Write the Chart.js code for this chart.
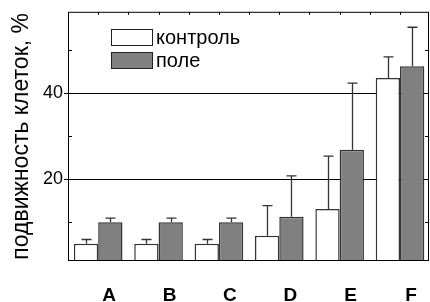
<!DOCTYPE html>
<html>
<head>
<meta charset="utf-8">
<script src="https://cdn.jsdelivr.net/npm/chart.js@4"></script>
<style>
  html, body { margin: 0; padding: 0; background: #fff; }
  #wrap { width: 430px; height: 302px; }
</style>
</head>
<body>
<div id="wrap"><canvas id="cellChart" width="430" height="302"></canvas></div>
<script>
// ======================
// DATA
// ======================
const groups = ["A", "B", "C", "D", "E", "F"];
const seriesNames = ["контроль", "поле"];
const controlValues = [5, 5, 5, 6.9, 13.1, 43.6];
const controlErrors = [1, 1, 1, 7, 12.3, 4.9];
const fieldValues = [10, 10, 10, 11.3, 26.9, 46.3];
const fieldErrors = [1, 1, 1, 9.5, 15.5, 9.1];
const yTicks = [20, 40];
const yMinorTicks = [10, 30, 50];

const FONT = "'Liberation Sans', Arial, sans-serif";

// ======================
// ERROR BARS (upper only)
// ======================
const errorBars = {
    id: "errorBars",
    afterDatasetsDraw(chart) {
        const ctx = chart.ctx;
        const y = chart.scales.y;
        const errs = [controlErrors, fieldErrors];
        ctx.save();
        ctx.strokeStyle = "#333";
        ctx.lineWidth = 1.3;
        chart.data.datasets.forEach((ds, i) => {
            chart.getDatasetMeta(i).data.forEach((bar, j) => {
                const top = y.getPixelForValue(ds.data[j].y + errs[i][j]);
                const x = Math.round(bar.x) + 0.5;
                ctx.beginPath();
                ctx.moveTo(x, bar.y);
                ctx.lineTo(x, top);
                ctx.moveTo(x - 5, top);
                ctx.lineTo(x + 5, top);
                ctx.stroke();
            });
        });
        ctx.restore();
    }
};

// ======================
// FRAME + MINOR TICKS
// ======================
const frame = {
    id: "frame",
    afterDraw(chart) {
        const ctx = chart.ctx;
        const a = chart.chartArea;
        const x = chart.scales.x;
        const y = chart.scales.y;
        ctx.save();
        ctx.strokeStyle = "#000";
        ctx.lineWidth = 1;
        ctx.strokeRect(a.left + 0.5, a.top + 0.5, a.right - a.left - 1, a.bottom - a.top - 1);
        ctx.beginPath();
        yMinorTicks.forEach(v => {
            const py = Math.round(y.getPixelForValue(v)) + 0.5;
            ctx.moveTo(a.left, py); ctx.lineTo(a.left + 4, py);
            ctx.moveTo(a.right, py); ctx.lineTo(a.right - 4, py);
        });
        for (let v = 0; v <= groups.length - 1; v += 0.5) {
            const px = Math.round(x.getPixelForValue(v)) + 0.5;
            ctx.moveTo(px, a.top); ctx.lineTo(px, a.top + 3);
        }
        ctx.stroke();
        ctx.restore();
    }
};

// ======================
// LEGEND (inside plot)
// ======================
const boxLegend = {
    id: "boxLegend",
    afterDraw(chart) {
        const ctx = chart.ctx;
        ctx.save();
        chart.data.datasets.forEach((ds, i) => {
            const top = 29 + i * 23;
            ctx.fillStyle = ds.backgroundColor;
            ctx.fillRect(111, top, 41, 16);
            ctx.strokeStyle = "#222";
            ctx.lineWidth = 1;
            ctx.strokeRect(111.5, top + 0.5, 41, 16);
            ctx.fillStyle = "#000";
            ctx.font = "20px " + FONT;
            ctx.textBaseline = "middle";
            ctx.fillText(ds.label, 156, top + 9);
        });
        ctx.restore();
    }
};

new Chart(document.getElementById("cellChart"), {
    type: "bar",
    data: {
        datasets: [
            {
                label: seriesNames[0],
                data: groups.map((g, i) => ({ x: i, y: controlValues[i] })),
                backgroundColor: "#ffffff",
                borderColor: "#333",
                borderWidth: 1.5,
                categoryPercentage: 0.805,
                barPercentage: 1
            },
            {
                label: seriesNames[1],
                data: groups.map((g, i) => ({ x: i, y: fieldValues[i] })),
                backgroundColor: "#808080",
                borderColor: "#333",
                borderWidth: 1.5,
                categoryPercentage: 0.805,
                barPercentage: 1
            }
        ]
    },
    options: {
        responsive: false,
        animation: false,
        devicePixelRatio: 1,
        layout: { padding: { top: 9, right: 1, left: 0, bottom: 0 } },
        plugins: {
            legend: { display: false },
            tooltip: { enabled: false }
        },
        scales: {
            x: {
                type: "linear",
                min: -0.5,
                max: 5.48,
                offset: false,
                afterBuildTicks: axis => { axis.ticks = groups.map((g, i) => ({ value: i })); },
                afterFit: s => { s.height = 41; },
                grid: { display: false, offset: false },
                border: { display: false },
                ticks: {
                    autoSkip: false,
                    maxRotation: 0,
                    labelOffset: 11,
                    padding: 15,
                    color: "#000",
                    font: { family: FONT, size: 19, weight: "bold" },
                    callback: v => groups[v]
                }
            },
            y: {
                min: 1,
                max: 59,
                afterBuildTicks: axis => { axis.ticks = yTicks.map(v => ({ value: v })); },
                afterFit: s => { s.width = 68; },
                grid: { color: "#000", lineWidth: 1, tickLength: 4, tickColor: "#000" },
                border: { display: false },
                ticks: {
                    padding: 1,
                    color: "#000",
                    font: { family: FONT, size: 18 }
                },
                title: {
                    display: true,
                    text: "подвижность клеток, %",
                    color: "#000",
                    padding: { top: 8, bottom: 0 },
                    font: { family: FONT, size: 23 }
                }
            }
        }
    },
    plugins: [errorBars, frame, boxLegend]
});
</script>
</body>
</html>
